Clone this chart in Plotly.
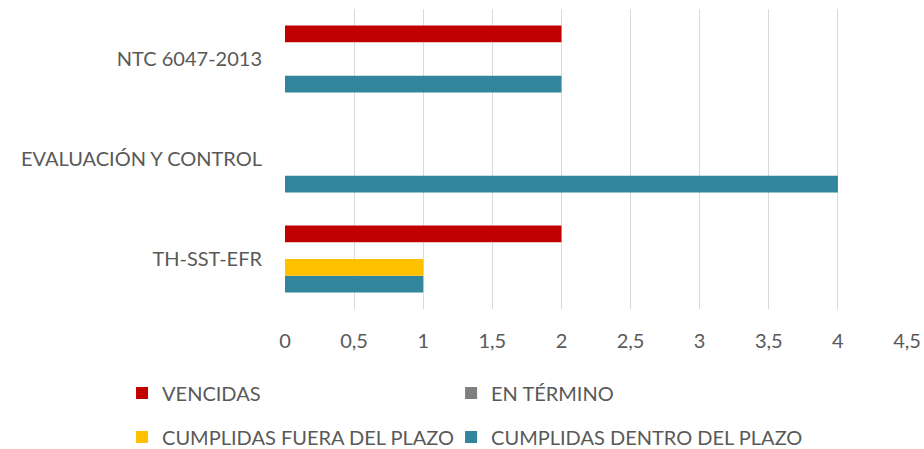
import plotly.graph_objects as go

categories = ["TH-SST-EFR", "EVALUACIÓN Y CONTROL", "NTC 6047-2013"]
vencidas = [2, 0, 2]
en_termino = [0, 0, 0]
fuera_plazo = [1, 0, 0]
dentro_plazo = [1, 4, 2]
x_ticks = [0, 0.5, 1, 1.5, 2, 2.5, 3, 3.5, 4, 4.5]
x_tick_labels = ["0", "0,5", "1", "1,5", "2", "2,5", "3", "3,5", "4", "4,5"]

FONT = "Lato"
TXT = "#595959"
FS = 20

fig = go.Figure()
# bottom-to-top order inside each group
fig.add_trace(go.Bar(y=categories, x=dentro_plazo, name="CUMPLIDAS DENTRO DEL PLAZO", showlegend=True,
                     orientation="h", marker=dict(color="#31859C", line=dict(width=0)), legend="legend4"))
fig.add_trace(go.Bar(y=categories, x=fuera_plazo, name="CUMPLIDAS FUERA DEL PLAZO", showlegend=True,
                     orientation="h", marker=dict(color="#FFC000", line=dict(width=0)), legend="legend3"))
fig.add_trace(go.Bar(y=categories, x=en_termino, name="EN TÉRMINO", showlegend=True,
                     orientation="h", marker=dict(color="#7F7F7F", line=dict(width=0)), legend="legend2"))
fig.add_trace(go.Bar(y=categories, x=vencidas, name="VENCIDAS", showlegend=True,
                     orientation="h", marker=dict(color="#C00000", line=dict(width=0)), legend="legend"))

legend_common = dict(orientation="h", xanchor="left", yanchor="middle",
                     font=dict(family=FONT, size=FS, color=TXT),
                     bgcolor="rgba(0,0,0,0)", itemwidth=30, visible=True)

COL1, COL2 = -0.262, 0.267
ROW1, ROW2 = -0.28, -0.427

fig.update_layout(
    width=924, height=449,
    showlegend=True,
    margin=dict(l=285, r=17, t=9, b=140, autoexpand=False),
    paper_bgcolor="white", plot_bgcolor="white",
    barmode="group", bargap=0.33, bargroupgap=0,
    font=dict(family=FONT, size=FS, color=TXT),
    legend=dict(x=COL1, y=ROW1, **legend_common),
    legend2=dict(x=COL2, y=ROW1, **legend_common),
    legend3=dict(x=COL1, y=ROW2, **legend_common),
    legend4=dict(x=COL2, y=ROW2, **legend_common),
    xaxis=dict(range=[0, 4.5], tickvals=x_ticks, ticktext=x_tick_labels,
               showgrid=True, gridcolor="#D9D9D9", gridwidth=1.3, zeroline=False,
               showline=False, ticks="", ticklabelstandoff=18, automargin=False,
               tickfont=dict(family=FONT, size=FS, color=TXT)),
    yaxis=dict(categoryorder="array", categoryarray=categories, showgrid=False,
               zeroline=False, showline=False, ticks="", ticklabelstandoff=22, automargin=False,
               tickfont=dict(family=FONT, size=FS, color=TXT)),
)

fig.write_html("out.html", config={"displayModeBar": False},
               post_script="document.body.style.margin='0px';")
